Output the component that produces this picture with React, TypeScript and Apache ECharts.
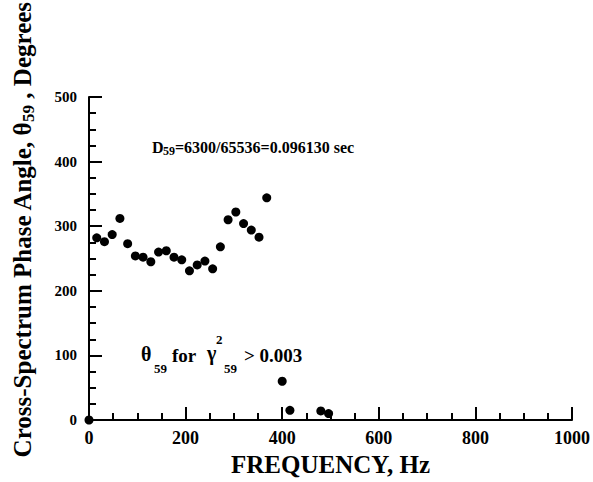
import React, { useEffect, useRef } from "react";
import * as echarts from "echarts";

const freq = [0, 16, 32, 48, 64, 80, 96, 112, 128, 144, 160, 176, 192, 208, 224, 240, 256, 272, 288, 304, 320, 336, 352, 368, 400, 416, 480, 496];
const phase = [0, 282, 276, 287, 312, 273, 254, 252, 245, 260, 262, 252, 248, 231, 240, 246, 234, 268, 310, 322, 304, 294, 283, 344, 60, 15, 14, 10];

const xTitle = "FREQUENCY, Hz";
const yTitleMain = "Cross-Spectrum Phase Angle, θ";
const yTitleSub = "59";
const yTitleEnd = " , Degrees";

const FONT = "'Liberation Serif', 'Times New Roman', serif";

function txt(text: string, x: number, y: number, size: number) {
  return {
    type: "text",
    x,
    y,
    z: 10,
    style: {
      text,
      fontSize: size,
      fontWeight: "bold",
      fontFamily: FONT,
      fill: "#000",
      align: "left",
      verticalAlign: "middle",
    },
  };
}

export default function App() {
  const ref = useRef<HTMLDivElement>(null);
  useEffect(() => {
    if (!ref.current) return;
    const chart = echarts.init(ref.current, null, { renderer: "svg" });
    chart.setOption({
      animation: false,
      backgroundColor: "#fff",
      grid: { left: 89, right: 20, top: 97, bottom: 62 },
      xAxis: {
        type: "value",
        min: 0,
        max: 1000,
        interval: 200,
        axisLine: { show: true, onZero: false, lineStyle: { color: "#000", width: 2 } },
        axisTick: { show: true, inside: true, length: 13, lineStyle: { color: "#000", width: 2 } },
        minorTick: { show: true, splitNumber: 4, length: 7, lineStyle: { color: "#000", width: 2 } },
        splitLine: { show: false },
        axisLabel: {
          fontSize: 18,
          fontWeight: "bold",
          fontFamily: FONT,
          color: "#000",
          margin: 9,
          formatter: (v: number) => String(v),
        },
        name: xTitle,
        nameLocation: "middle",
        nameGap: 32,
        nameTextStyle: { fontSize: 25, fontWeight: "bold", fontFamily: FONT, color: "#000" },
      },
      yAxis: {
        type: "value",
        min: 0,
        max: 500,
        interval: 100,
        axisLine: { show: true, onZero: false, lineStyle: { color: "#000", width: 2 } },
        axisTick: { show: true, inside: true, length: 13, lineStyle: { color: "#000", width: 2 } },
        minorTick: { show: true, splitNumber: 4, length: 7, lineStyle: { color: "#000", width: 2 } },
        splitLine: { show: false },
        axisLabel: {
          fontSize: 15,
          fontWeight: "bold",
          fontFamily: FONT,
          color: "#000",
          margin: 12,
          formatter: (v: number) => String(v),
        },
      },
      graphic: [
        {
          type: "text",
          x: 22,
          y: 230,
          rotation: Math.PI / 2,
          style: {
            text: `{a|${yTitleMain}}{s|${yTitleSub}}{a|${yTitleEnd}}`,
            align: "center",
            verticalAlign: "middle",
            fill: "#000",
            rich: {
              a: { fontSize: 25, fontWeight: "bold", fontFamily: FONT, lineHeight: 30, fill: "#000" },
              s: { fontSize: 17, fontWeight: "bold", fontFamily: FONT, lineHeight: 17, verticalAlign: "bottom", fill: "#000" },
            },
          },
        },
        txt("D", 152, 147, 16),
        txt("59", 163, 151, 12),
        txt("=6300/65536=0.096130 sec", 175, 147, 16),
        txt("θ", 141, 354, 20),
        txt("59", 154, 368, 13),
        txt("for", 172, 355, 19),
        txt("γ", 207, 353, 20),
        txt("2", 216, 339, 13),
        txt("59", 224, 368, 13),
        txt("> 0.003", 244, 355, 19),
      ],
      series: [
        {
          type: "scatter",
          data: freq.map((f, i) => [f, phase[i]]),
          symbol: "circle",
          symbolSize: 9,
          clip: false,
          itemStyle: { color: "#000", opacity: 1 },
          z: 5,
        },
      ],
    });
    return () => chart.dispose();
  }, []);
  return (
    <div
      ref={ref}
      style={{ position: "absolute", left: 0, top: 0, width: 593, height: 482, background: "#fff" }}
    />
  );
}
